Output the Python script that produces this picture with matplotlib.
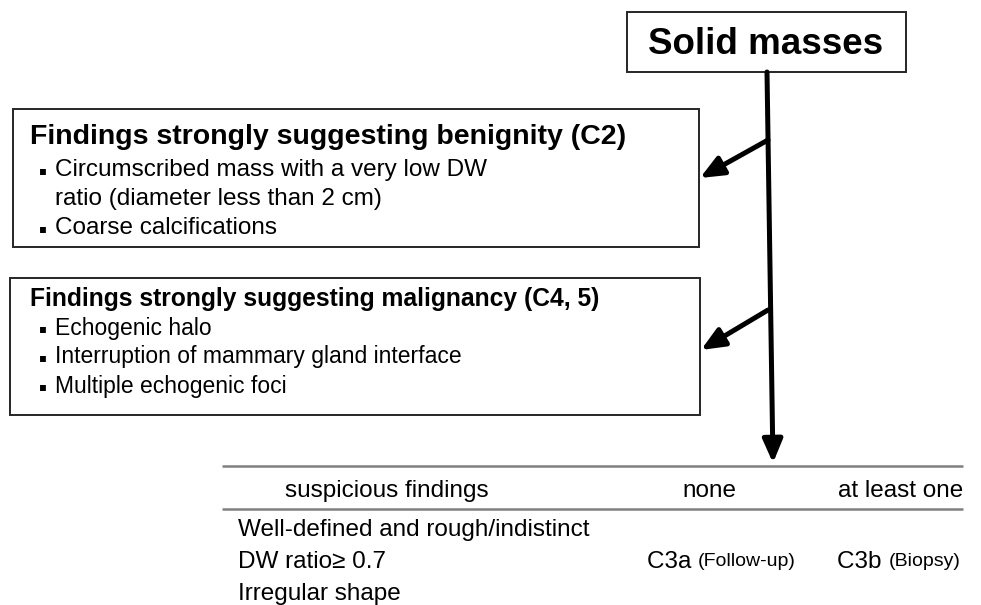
import matplotlib
matplotlib.use("Agg")
import matplotlib.pyplot as plt

# texts of the diagram
top_label = "Solid masses"
benign_title = "Findings strongly suggesting benignity (C2)"
benign_items = ["Circumscribed mass with a very low DW",
                "ratio (diameter less than 2 cm)",
                "Coarse calcifications"]
benign_bullets = [True, False, True]
malig_title = "Findings strongly suggesting malignancy (C4, 5)"
malig_items = ["Echogenic halo",
               "Interruption of mammary gland interface",
               "Multiple echogenic foci"]
table_header = ["suspicious findings", "none", "at least one"]
table_rows = ["Well-defined and rough/indistinct", "DW ratio\u2265 0.7", "Irregular shape"]
result_none = ("C3a", "(Follow-up)")
result_one = ("C3b", "(Biopsy)")

font = ["Liberation Sans", "DejaVu Sans"]
plt.rcParams["font.family"] = font

fig = plt.figure(figsize=(9.81, 6.05), dpi=100)
ax = fig.add_axes([0, 0, 1, 1])
ax.set_xlim(0, 981)
ax.set_ylim(605, 0)
ax.axis("off")

# boxes
box = dict(fill=False, lw=1.4, ec="#262626")
ax.add_patch(plt.Rectangle((627, 12), 279, 60, **box))
ax.add_patch(plt.Rectangle((13, 109), 686, 138, **box))
ax.add_patch(plt.Rectangle((10, 278), 690, 137, **box))

ax.text(766, 44, top_label, fontsize=26.5, fontweight="bold", ha="center", va="center")

def bullet(x, y):
    ax.text(x, y, "\u25aa", fontsize=8.5, family="DejaVu Sans", ha="center", va="center")

ax.text(30, 137, benign_title, fontsize=20.5, fontweight="bold", va="center")
for i, (s, b) in enumerate(zip(benign_items, benign_bullets)):
    y = 170 + i * 29
    if b:
        bullet(43, y + 1)
    ax.text(55, y, s, fontsize=17.5, va="center")

ax.text(30, 299, malig_title, fontsize=17.7, fontweight="bold", va="center")
for i, s in enumerate(malig_items):
    y = 328 + i * 29
    bullet(43, y + 1)
    ax.text(55, y, s, fontsize=16.5, va="center")

# arrows
arrow = dict(arrowstyle="-|>,head_length=1.4,head_width=0.6", lw=3.6, color="black",
             shrinkA=0, shrinkB=0)
ax.annotate("", xy=(773, 463), xytext=(767, 72), arrowprops=arrow)
ax.annotate("", xy=(700, 178), xytext=(768, 140), arrowprops=arrow)
ax.annotate("", xy=(701, 350), xytext=(768, 310), arrowprops=arrow)

# table
ax.plot([222, 963], [466, 466], color="#808080", lw=1.8, solid_capstyle="butt")
ax.plot([222, 963], [509, 509], color="#808080", lw=1.8, solid_capstyle="butt")
ax.text(285, 491, table_header[0], fontsize=17.5, va="center")
ax.text(709, 491, table_header[1], fontsize=17.5, ha="center", va="center")
ax.text(963, 491, table_header[2], fontsize=17.5, ha="right", va="center")
for i, s in enumerate(table_rows):
    ax.text(238, 530 + i * 32, s, fontsize=17.5, va="center")

t = ax.text(647, 562, result_none[0] + " ", fontsize=17.5, va="center")
ax.annotate(result_none[1], xycoords=t, xy=(1, 0.5), va="center", fontsize=14)
t2 = ax.text(837, 562, result_one[0] + " ", fontsize=17.5, va="center")
ax.annotate(result_one[1], xycoords=t2, xy=(1, 0.5), va="center", fontsize=14)

fig.savefig("out.png", dpi=100)
